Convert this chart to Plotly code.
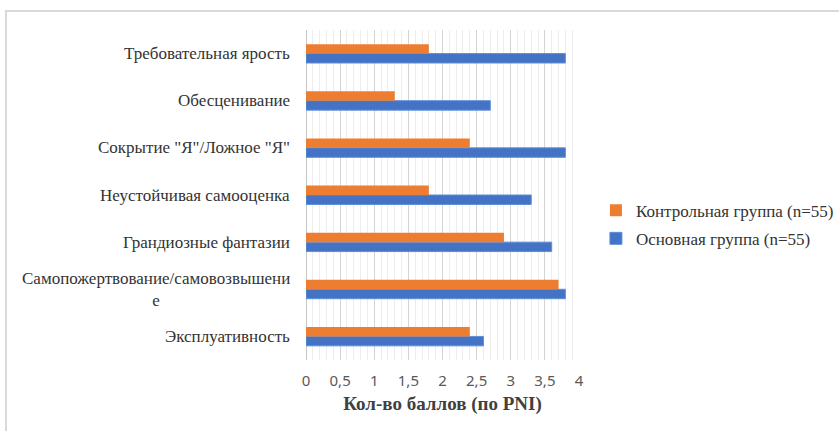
import plotly.graph_objects as go

# Scale categories, listed from the bottom of the chart to the top
categories = [
    "Эксплуативность",
    "Самопожертвование/самовозвышение",
    "Грандиозные фантазии",
    "Неустойчивая самооценка",
    "Сокрытие \"Я\"/Ложное \"Я\"",
    "Обесценивание",
    "Требовательная ярость",
]
category_labels = [
    "Эксплуативность",
    "Самопожертвование/самовозвышени<br>е",
    "Грандиозные фантазии",
    "Неустойчивая самооценка",
    "Сокрытие \"Я\"/Ложное \"Я\"",
    "Обесценивание",
    "Требовательная ярость",
]
main_group = [2.6, 3.8, 3.6, 3.3, 3.8, 2.7, 3.8]
control_group = [2.4, 3.7, 2.9, 1.8, 2.4, 1.3, 1.8]
main_name = "Основная группа (n=55)"
control_name = "Контрольная группа (n=55)"
x_title = "Кол-во баллов (по PNI)"

BLUE = "#4472C4"
ORANGE = "#ED7D31"
SERIF = "Liberation Serif"

fig = go.Figure()
fig.add_trace(go.Bar(
    y=categories, x=main_group, name=main_name, orientation="h",
    marker=dict(color=BLUE, line=dict(color="#5B8FD9", width=1)),
    legendgroup="main", legendrank=2,
))
fig.add_trace(go.Bar(
    y=categories, x=control_group, name=control_name, orientation="h",
    marker=dict(color=ORANGE, line=dict(width=0)),
    legendgroup="control", legendrank=1,
))

# Category labels, centred on multiple lines
for cat, lab in zip(categories, category_labels):
    fig.add_annotation(
        x=-0.05, xref="paper", y=cat, yref="y", text=lab,
        xanchor="right", yanchor="middle", align="center", showarrow=False,
        font=dict(family=SERIF, size=17, color="#333333"),
    )

# Light outer frame of the chart area
fig.add_shape(
    type="rect", xref="paper", yref="paper",
    x0=(6 - 306) / 273, x1=(845 - 306) / 273,
    y0=(360 - 440) / 330, y1=(360 - 11) / 330,
    line=dict(color="#D9D9D9", width=2), layer="below",
)

fig.update_layout(
    width=839, height=431,
    margin=dict(l=306, r=260, t=30, b=71, autoexpand=False),
    paper_bgcolor="white", plot_bgcolor="white",
    barmode="group", bargap=0.6, bargroupgap=0,
    separators=", ",
    showlegend=True,
    legend=dict(
        x=1.062, y=0.41, xanchor="left", yanchor="middle",
        traceorder="grouped", tracegroupgap=3,
        font=dict(family=SERIF, size=17, color="#333333"),
        itemwidth=30, bgcolor="rgba(0,0,0,0)",
    ),
    xaxis=dict(
        range=[0, 4], dtick=0.5, tick0=0,
        showgrid=True, gridcolor="#D4D4D4", gridwidth=1,
        zeroline=True, zerolinecolor="#C8C8C8", zerolinewidth=1,
        minor=dict(dtick=0.1, showgrid=True, gridcolor="#EDEDED", gridwidth=1),
        showline=False, ticks="",
        tickfont=dict(family="Noto Sans", size=15, color="#595959"),
        ticklabelstandoff=10,
        title=dict(text="<b>" + x_title + "</b>", standoff=7,
                   font=dict(family=SERIF, size=19, color="#404040")),
    ),
    yaxis=dict(
        categoryorder="array", categoryarray=categories,
        showticklabels=False, showgrid=False, zeroline=False, showline=False,
    ),
)

fig.write_html("out.html")
